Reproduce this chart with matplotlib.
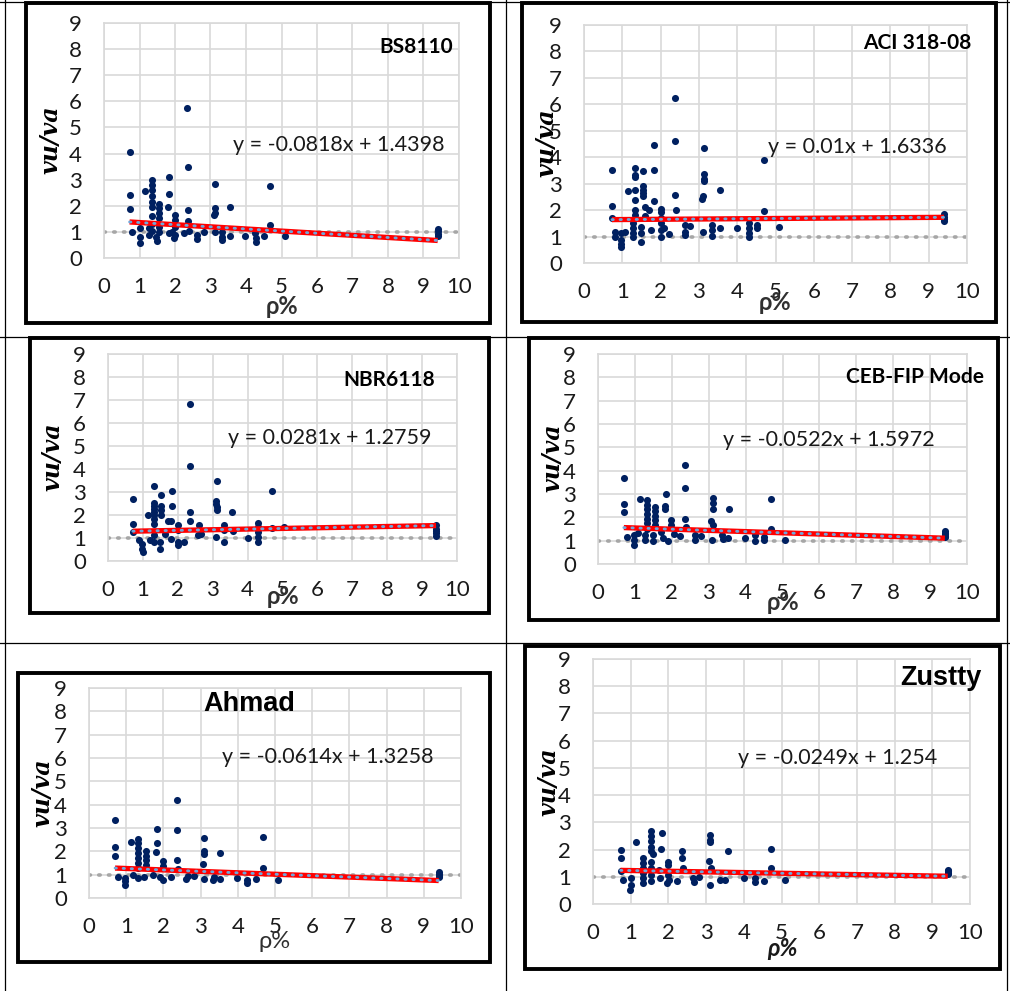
import matplotlib
matplotlib.use("Agg")
import matplotlib.pyplot as plt
from matplotlib.patches import Rectangle
from matplotlib.lines import Line2D
import numpy as np

W, H = 1010, 991

# ---------------- data ----------------
bs_x = [0.72, 0.72, 0.72, 0.79, 1.00, 1.00, 1.00, 1.15, 1.26, 1.26, 1.34, 1.34, 1.34, 1.34, 1.34, 1.34, 1.34, 1.34,
        1.34, 1.47, 1.50, 1.54, 1.54, 1.54, 1.54, 1.54, 1.54, 1.81, 1.84, 1.84, 1.84, 1.92, 1.97, 1.99, 1.99, 2.01,
        2.01, 2.25, 2.34, 2.36, 2.37, 2.37, 2.40, 2.62, 2.62, 2.81, 3.12, 3.12, 3.12, 3.10, 3.12, 3.32, 3.32, 3.32,
        3.56, 3.56, 3.98, 4.26, 4.28, 4.28, 4.50, 4.69, 4.69, 5.09, 9.40, 9.40, 9.40, 9.40]
bs_y = [4.07, 2.40, 1.88, 1.01, 1.14, 0.82, 0.57, 2.58, 1.14, 0.88, 2.97, 2.80, 2.61, 2.38, 2.16, 1.97, 1.61, 1.30,
        1.05, 0.82, 0.67, 2.07, 1.91, 1.72, 1.52, 1.20, 1.00, 1.97, 3.12, 2.46, 0.95, 1.01, 0.76, 1.65, 1.46, 1.20,
        0.90, 0.95, 5.74, 3.48, 1.82, 1.43, 1.05, 0.88, 0.72, 1.00, 2.84, 1.91, 1.72, 1.64, 0.98, 1.00, 0.82, 0.70,
        1.97, 0.86, 0.85, 0.95, 0.76, 0.63, 0.85, 2.76, 1.27, 0.85, 1.12, 1.02, 0.92, 0.85]

aci_x = [0.73, 0.73, 0.73, 0.80, 0.80, 0.97, 0.97, 0.97, 0.97, 1.08, 1.15, 1.28, 1.28, 1.28, 1.28, 1.34, 1.34, 1.34,
         1.34, 1.34, 1.34, 1.34, 1.50, 1.50, 1.50, 1.54, 1.54, 1.54, 1.54, 1.54, 1.58, 1.60, 1.71, 1.76, 1.82, 1.84,
         1.84, 2.00, 2.00, 2.00, 2.00, 2.00, 2.00, 2.10, 2.22, 2.37, 2.37, 2.37, 2.40, 2.63, 2.63, 2.63, 2.78, 3.08,
         3.10, 3.11, 3.13, 3.13, 3.13, 3.13, 3.35, 3.35, 3.35, 3.54, 3.55, 4.00, 4.30, 4.30, 4.30, 4.30, 4.52, 4.52,
         4.70, 4.70, 5.08, 9.40, 9.40, 9.40, 9.40]
aci_y = [3.52, 2.15, 1.72, 1.19, 1.00, 1.13, 0.87, 0.72, 0.59, 1.19, 2.73, 1.51, 1.32, 1.15, 1.00, 3.61, 3.34, 3.24,
         2.77, 2.39, 1.99, 1.82, 1.38, 1.13, 0.81, 3.47, 2.90, 2.77, 2.65, 2.52, 1.76, 2.11, 1.99, 1.25, 2.35, 4.46,
         3.52, 2.05, 1.91, 1.70, 1.51, 1.25, 1.00, 1.32, 1.10, 6.23, 4.60, 2.56, 2.01, 1.44, 1.19, 1.06, 1.41, 2.42,
         1.16, 2.52, 4.33, 3.38, 3.18, 3.09, 1.44, 1.25, 1.03, 1.34, 2.77, 1.32, 1.51, 1.32, 1.15, 1.00, 1.44, 1.34,
         3.91, 1.95, 1.38, 1.85, 1.75, 1.65, 1.58]

nbr_x = [0.71, 0.71, 0.71, 0.88, 0.97, 0.97, 1.00, 1.14, 1.19, 1.31, 1.31, 1.31, 1.31, 1.31, 1.31, 1.31, 1.31, 1.33,
         1.33, 1.48, 1.48, 1.52, 1.52, 1.52, 1.52, 1.62, 1.73, 1.81, 1.81, 1.83, 1.83, 2.00, 2.00, 2.00, 2.00, 2.19,
         2.35, 2.35, 2.35, 2.35, 2.57, 2.62, 2.67, 3.10, 3.10, 3.10, 3.11, 3.12, 3.13, 3.33, 3.33, 3.33, 3.55, 3.57,
         4.00, 4.29, 4.29, 4.29, 4.29, 4.29, 4.69, 4.69, 5.05, 9.40, 9.40, 9.40, 9.40, 9.40]
nbr_y = [2.70, 1.62, 1.26, 0.90, 0.75, 0.54, 0.39, 1.98, 0.90, 3.24, 2.53, 2.41, 2.27, 2.13, 1.98, 1.81, 1.62, 1.12,
         0.83, 0.83, 0.54, 2.85, 2.41, 2.20, 2.01, 1.19, 1.76, 1.72, 0.97, 3.06, 2.41, 1.55, 1.33, 0.83, 0.68, 0.83,
         6.82, 4.13, 2.15, 1.75, 1.12, 1.55, 1.19, 2.63, 2.49, 1.04, 3.47, 2.34, 2.23, 1.58, 1.33, 0.83, 2.15, 1.29,
         1.00, 1.66, 1.48, 1.26, 1.04, 0.83, 3.03, 1.43, 1.48, 1.55, 1.40, 1.30, 1.20, 1.10]

ceb_x = [0.70, 0.70, 0.70, 0.79, 0.97, 0.97, 0.97, 1.09, 1.13, 1.27, 1.27, 1.33, 1.33, 1.33, 1.33, 1.33, 1.33, 1.33,
         1.48, 1.48, 1.54, 1.54, 1.54, 1.54, 1.54, 1.72, 1.76, 1.82, 1.82, 1.83, 1.90, 1.99, 1.99, 2.05, 2.21, 2.37,
         2.37, 2.37, 2.39, 2.64, 2.64, 2.80, 3.07, 3.09, 3.11, 3.11, 3.11, 3.11, 3.36, 3.38, 3.52, 3.54, 3.99, 4.26,
         4.26, 4.50, 4.50, 4.70, 4.70, 5.07, 9.40, 9.40, 9.40, 9.40, 9.40]
ceb_y = [3.67, 2.56, 2.23, 1.17, 1.24, 1.03, 0.82, 1.31, 2.78, 1.24, 1.03, 2.73, 2.54, 2.37, 2.16, 1.95, 1.74, 1.52,
         1.24, 0.99, 2.44, 2.26, 2.06, 1.88, 1.66, 1.38, 1.13, 2.49, 2.37, 3.01, 0.99, 1.88, 1.66, 1.27, 1.20, 4.24,
         3.25, 1.95, 1.59, 1.24, 1.03, 1.21, 1.85, 1.03, 2.82, 2.63, 2.37, 1.66, 1.24, 1.07, 1.10, 2.37, 1.10, 1.24,
         0.99, 1.17, 1.03, 2.78, 1.50, 1.03, 1.40, 1.35, 1.28, 1.20, 1.15]

ahm_x = [0.70, 0.70, 0.70, 0.78, 0.97, 0.97, 0.97, 1.13, 1.18, 1.31, 1.33, 1.33, 1.33, 1.33, 1.33, 1.33, 1.33, 1.47,
         1.54, 1.54, 1.54, 1.54, 1.72, 1.80, 1.83, 1.83, 1.90, 1.98, 1.98, 1.98, 2.21, 2.36, 2.36, 2.36, 2.39, 2.61,
         2.65, 2.83, 3.08, 3.10, 3.10, 3.10, 3.06, 3.33, 3.35, 3.53, 3.53, 3.98, 4.26, 4.26, 4.49, 4.69, 4.69, 5.07,
         9.40, 9.40, 9.40, 9.40]
ahm_y = [3.36, 2.19, 1.81, 0.90, 0.86, 0.71, 0.57, 2.39, 1.00, 0.86, 2.53, 2.36, 2.14, 1.93, 1.71, 1.50, 1.29, 0.90,
         2.00, 1.81, 1.61, 1.43, 1.00, 1.97, 2.96, 2.36, 0.90, 1.57, 1.39, 0.76, 0.90, 4.21, 2.91, 1.64, 1.26, 0.81,
         0.93, 0.96, 0.81, 2.57, 2.00, 1.89, 1.47, 0.79, 0.90, 1.93, 0.81, 0.86, 0.76, 0.64, 0.81, 2.60, 1.29, 0.79,
         1.10, 1.05, 0.95, 0.90]

zus_x = [0.73, 0.73, 0.73, 0.80, 1.00, 1.00, 0.99, 1.15, 1.33, 1.33, 1.33, 1.33, 1.33, 1.33, 1.55, 1.55, 1.55, 1.55,
         1.55, 1.55, 1.55, 1.55, 1.55, 1.59, 1.74, 1.77, 1.81, 1.83, 1.95, 1.99, 1.99, 1.99, 2.01, 2.24, 2.37, 2.37,
         2.40, 2.65, 2.68, 2.81, 3.07, 3.11, 3.11, 3.11, 3.13, 3.11, 3.36, 3.50, 3.57, 4.01, 4.29, 4.29, 4.53, 4.71,
         4.71, 5.09, 9.41, 9.41, 9.41, 9.41]
zus_y = [1.97, 1.69, 1.20, 0.89, 0.95, 0.71, 0.53, 2.27, 1.69, 1.50, 1.34, 1.14, 0.95, 0.77, 2.70, 2.48, 2.30, 2.11,
         1.93, 1.56, 1.34, 1.08, 0.83, 1.85, 1.26, 0.95, 2.03, 2.60, 0.77, 1.56, 1.42, 1.08, 0.89, 0.86, 1.93, 1.69,
         1.34, 0.95, 0.81, 0.98, 1.59, 2.54, 2.36, 2.27, 1.34, 0.71, 0.89, 0.89, 1.93, 0.95, 0.95, 0.81, 0.86, 2.02,
         1.32, 0.89, 1.25, 1.20, 1.15, 1.10]

titles = ["BS8110", "ACI 318-08", "NBR6118", "CEB-FIP Mode", "Ahmad", "Zustty"]
slopes = [-0.0818, 0.01, 0.0281, -0.0522, -0.0614, -0.0249]
intercepts = [1.4398, 1.6336, 1.2759, 1.5972, 1.3258, 1.254]
equations = ["y = -0.0818x + 1.4398", "y = 0.01x + 1.6336", "y = 0.0281x + 1.2759",
             "y = -0.0522x + 1.5972", "y = -0.0614x + 1.3258", "y = -0.0249x + 1.254"]
x_ticks = [0, 1, 2, 3, 4, 5, 6, 7, 8, 9, 10]
y_ticks = [0, 1, 2, 3, 4, 5, 6, 7, 8, 9]
ref_line = [1, 1]
xs = [bs_x, aci_x, nbr_x, ceb_x, ahm_x, zus_x]
ys = [bs_y, aci_y, nbr_y, ceb_y, ahm_y, zus_y]

# ---------------- layout (pixels) ----------------
plot_px = [(104, 459, 23, 258), (584, 967, 25, 263), (108, 457, 354, 561),
           (598, 967, 354, 564), (89, 461, 688, 898), (593, 970, 659, 904)]
box_px = [(26, 3, 490, 323), (522, 3, 996, 322), (30, 338, 489, 613),
          (529, 338, 998, 620), (18, 673, 490, 962), (525, 646, 1000, 969)]
title_pos = [(453, 47, 'right'), (971, 43, 'right'), (435, 380, 'right'),
             (984, 377, 'right'), (203, 704, 'left'), (982, 678, 'right')]
eq_pos = [(233, 145), (768, 147), (228, 438), (723, 440), (222, 757), (738, 758)]
xl_pos = [(282, 307), (775, 303), (283, 597), (783, 603), (275, 942), (782, 948)]
yl_pos = [(50, 140), (547, 143), (53, 457), (552, 458), (42, 793), (548, 782)]

fig = plt.figure(figsize=(W / 100, H / 100), dpi=100)
fig.patch.set_facecolor('white')

def fx(x):
    return x / W

def fy(y):
    return 1 - y / H

# table lines
for (x0, y0, x1, y1) in [(5, 0, 5, H), (506, 0, 506, H), (1007, 0, 1007, H),
                         (0, 1.5, W, 1.5), (0, 337, W, 337), (0, 643, W, 643)]:
    fig.add_artist(Line2D([fx(x0), fx(x1)], [fy(y0), fy(y1)], color='black', lw=0.9,
                          transform=fig.transFigure))

grid_c = '#d9d9d9'
navy = '#002060'
FONT = 'Lato'
TXT = '#1a1a1a'

for i in range(6):
    x0, x1, yt, yb = plot_px[i]
    ax = fig.add_axes([fx(x0), fy(yb), (x1 - x0) / W, (yb - yt) / H])
    ax.set_xlim(0, 10)
    ax.set_ylim(0, 9)
    ax.set_xticks(x_ticks)
    ax.set_yticks(y_ticks)
    ax.set_xticklabels([str(t) for t in x_ticks], fontfamily=FONT, fontsize=16, color=TXT)
    ax.set_yticklabels([str(t) for t in y_ticks], fontfamily=FONT, fontsize=16, color=TXT)
    ax.tick_params(axis='x', length=0, pad=14)
    ax.tick_params(axis='y', length=0, pad=16)
    ax.grid(True, color=grid_c, lw=1.2)
    ax.set_axisbelow(True)
    for s in ax.spines.values():
        s.set_color(grid_c)
        s.set_linewidth(1.2)
    # reference line y = 1
    ax.plot([0, 10], ref_line, color='#a6a6a6', lw=2.6, ls=(0, (0.4, 2.3)),
            dash_capstyle='round', zorder=2)
    # scatter
    ax.scatter(xs[i], ys[i], s=26, color=navy, zorder=3, linewidths=0)
    # trendline
    tx = np.array([min(xs[i]), max(xs[i])])
    ty = slopes[i] * tx + intercepts[i]
    ax.plot(tx, ty, color='#ff0000', lw=3.8, zorder=4, solid_capstyle='butt')
    ax.plot(tx, ty, color='#6fa8dc', lw=2.0, ls=(0, (0.5, 2.4)), dash_capstyle='round', zorder=5)

    # box
    bx0, by0, bx1, by1 = box_px[i]
    fig.add_artist(Rectangle((fx(bx0), fy(by1)), (bx1 - bx0) / W, (by1 - by0) / H, fill=False,
                             ec='black', lw=2.8, transform=fig.transFigure))

    # title
    tx_, ty_, ha = title_pos[i]
    if i >= 4:
        fig.text(fx(tx_), fy(ty_), titles[i], ha=ha, va='center', fontsize=19.5,
                 fontweight='bold', fontfamily='Liberation Sans', color='black')
    else:
        fig.text(fx(tx_), fy(ty_), titles[i], ha=ha, va='center', fontsize=15,
                 fontweight='bold', fontfamily=FONT, color='black')
    # equation
    ex, ey = eq_pos[i]
    fig.text(fx(ex), fy(ey), equations[i], ha='left', va='center', fontsize=15.5,
             fontfamily=FONT, color=TXT)
    # x label
    lx, ly = xl_pos[i]
    if i == 4:
        fig.text(fx(lx), fy(ly), 'ρ%', ha='center', va='center', fontsize=17,
                 fontfamily=FONT, color='#303030')
    elif i == 5:
        fig.text(fx(lx), fy(ly), 'ρ%', ha='center', va='center', fontsize=17,
                 fontfamily=FONT, fontweight='bold', style='italic', color=TXT)
    else:
        fig.text(fx(lx), fy(ly), 'ρ%', ha='center', va='center', fontsize=17,
                 fontfamily=FONT, fontweight='bold', color='#303030')
    # y label
    yx, yy = yl_pos[i]
    fig.text(fx(yx), fy(yy), 'vu/va', ha='center', va='center', rotation=90, fontsize=17,
             fontfamily='DejaVu Serif', fontweight='bold', style='italic', color='black')

fig.savefig('out.png', dpi=100)
